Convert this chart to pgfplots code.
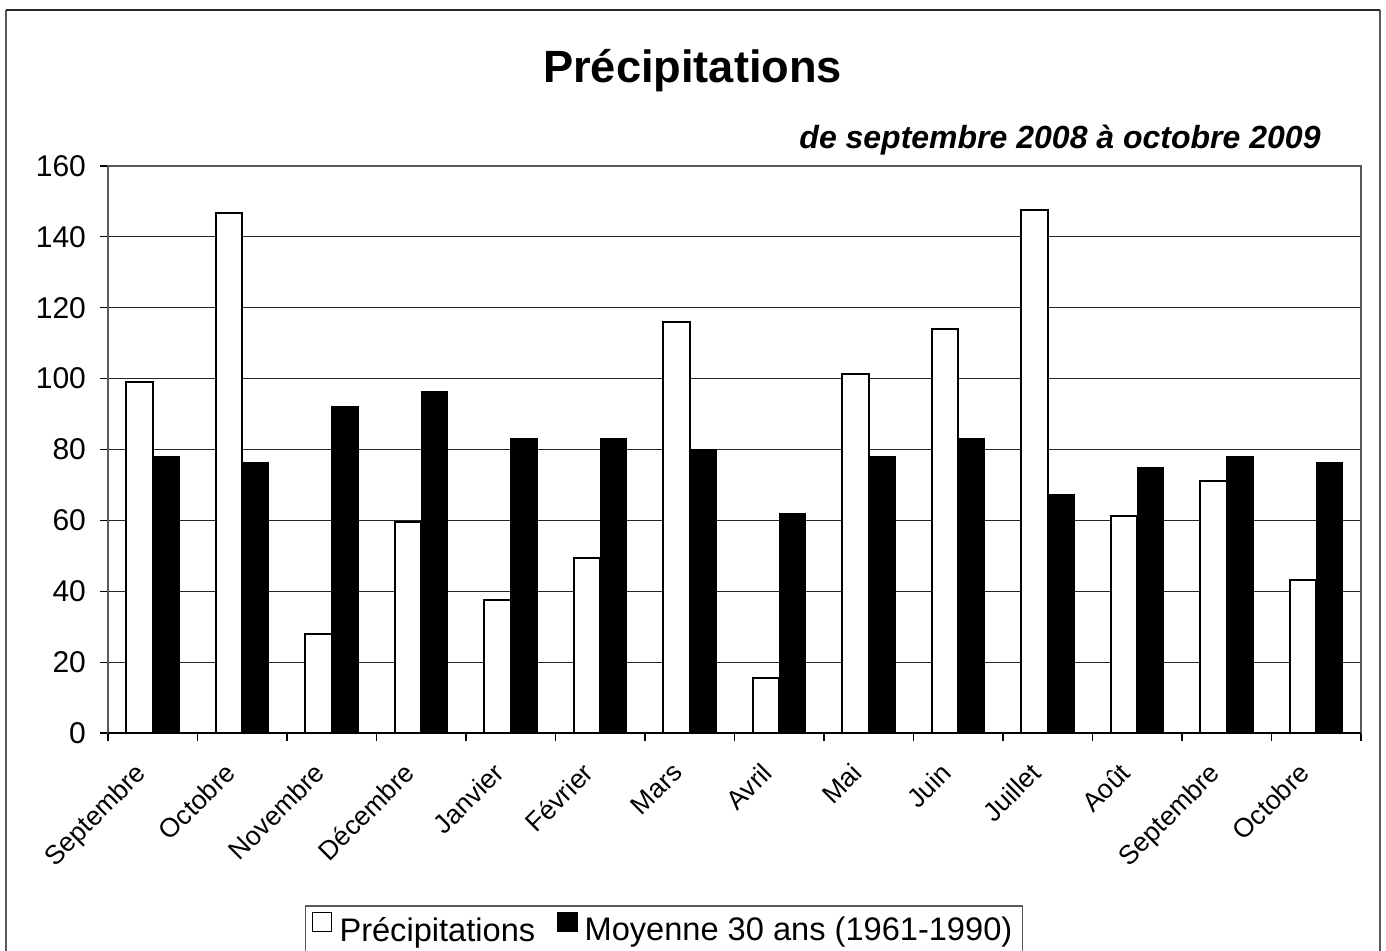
\documentclass[border=0pt]{standalone}
\usepackage{pgfplots}
\pgfplotsset{compat=1.18}
\usepackage{fontspec}
\setmainfont{Liberation Sans}
\begin{document}
\begin{tikzpicture}
% outer chart frame
\draw[gray!70!black, line width=1pt] (3pt,-10pt) -- (3pt,470pt);
\draw[gray!70!black, line width=1pt] (690pt,-10pt) -- (690pt,470pt);
\draw[black!85, line width=1pt] (3pt,470pt) -- (690pt,470pt);
% titles
\node[anchor=base, inner sep=0pt, font=\fontsize{22.6}{26}\selectfont\bfseries] at (346.3pt,433.5pt) {Précipitations};
\node[anchor=base east, inner sep=0pt, font=\fontsize{16}{19}\selectfont\bfseries\itshape] at (660.5pt,400.5pt) {de septembre 2008 à octobre 2009};
\begin{axis}[
  at={(54pt,108.5pt)}, anchor=south west,
  scale only axis, width=626.5pt, height=283.5pt,
  ybar=0pt, bar width=0.296,
  xmin=-0.5, xmax=13.5, ymin=0, ymax=160,
  xtick={0,...,13},
  xticklabels={Septembre,Octobre,Novembre,Décembre,Janvier,Février,Mars,Avril,Mai,Juin,Juillet,Août,Septembre,Octobre},
  minor xtick={-0.5,0.5,...,13.5},
  ytick={0,20,...,160},
  xtick pos=bottom, ytick pos=left,
  tick align=outside,
  major tick length=4pt, minor tick length=4pt,
  major x tick style={draw=none},
  minor x tick style={black, line width=0.6pt},
  major y tick style={black, line width=0.6pt},
  axis line style={gray!70!black, line width=0.9pt},
  ymajorgrids, grid style={black!85, line width=0.6pt},
  /pgf/number format/assume math mode=true,
  yticklabel style={font=\fontsize{15}{18}\selectfont, xshift=-3.5pt},
  xticklabel style={font=\fontsize{13.3}{16}\selectfont, xshift=-9.5pt, yshift=-8.5pt, rotate=45, anchor=north east, inner sep=1pt},
  legend style={at={(0.157,-0.3034)}, anchor=north west, draw=gray!70!black, line width=0.8pt,
    font=\fontsize{16.3}{19}\selectfont, legend columns=2, inner sep=3pt,
    /tikz/every even column/.append style={column sep=9pt}},
  legend cell align=left,
]
\addplot[fill=white, draw=black, line width=1.2pt,
  legend image code/.code={\draw[fill=white, draw=black, line width=0.8pt] (2pt,-0.5pt) rectangle (11.5pt,9pt); \path (13pt,0pt);}]
  coordinates {(0,99) (1,146.7) (2,27.9) (3,59.5) (4,37.5) (5,49.4) (6,116) (7,15.5) (8,101.3) (9,114) (10,147.6) (11,61.2) (12,71.1) (13,43.2)};
\addlegendentry{Précipitations}
\addplot[fill=black, draw=black, line width=0.6pt,
  legend image code/.code={\draw[fill=black, draw=black, line width=0.8pt] (0pt,-0.5pt) rectangle (9.5pt,9pt); \path (11pt,0pt);}]
  coordinates {(0,78) (1,76.2) (2,92) (3,96.2) (4,83.2) (5,83) (6,80.1) (7,62) (8,78) (9,83) (10,67.2) (11,75) (12,78) (13,76.2)};
\addlegendentry{Moyenne 30 ans (1961-1990)}
\draw[black, line width=0.9pt] (rel axis cs:0,0) -- (rel axis cs:1,0);
\end{axis}
\pgfresetboundingbox
\path[use as bounding box] (0,0) rectangle (693pt,475pt);
\end{tikzpicture}
\end{document}
